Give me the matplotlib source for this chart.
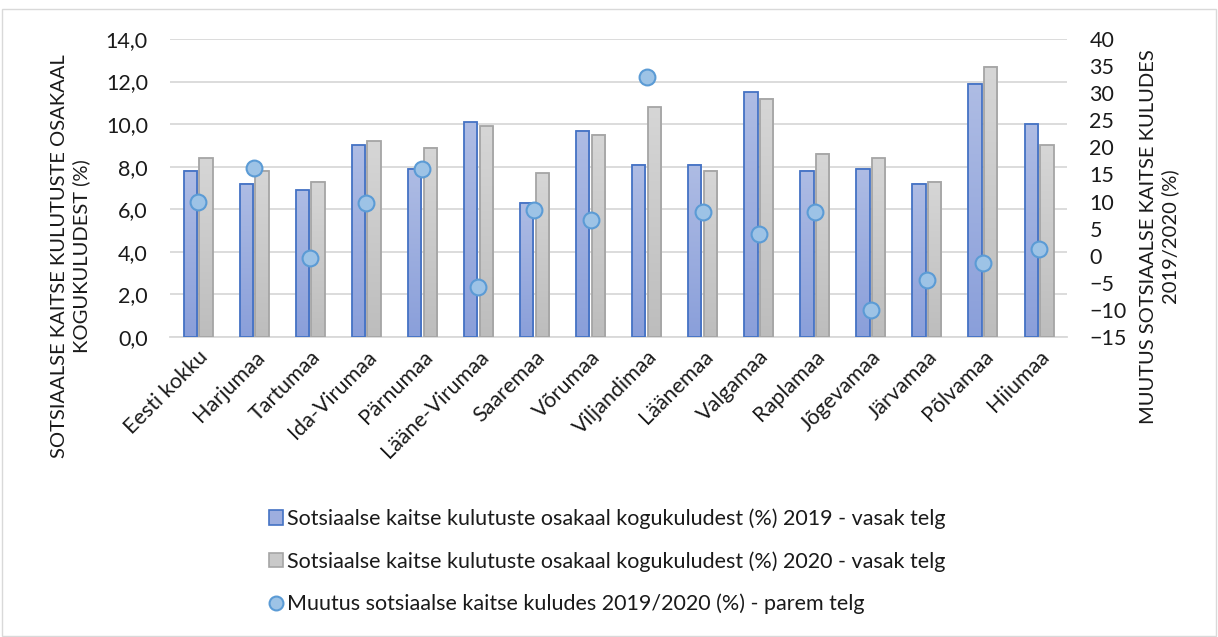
import matplotlib
matplotlib.use("Agg")
import matplotlib.pyplot as plt
from matplotlib.patches import Rectangle
from matplotlib.lines import Line2D
from matplotlib.ticker import FuncFormatter
from matplotlib.colors import LinearSegmentedColormap
import numpy as np

plt.rcParams['font.family'] = ['Lato', 'DejaVu Sans']

regions = ["Eesti kokku", "Harjumaa", "Tartumaa", "Ida-Virumaa", "Pärnumaa",
           "Lääne-Virumaa", "Saaremaa", "Võrumaa", "Viljandimaa", "Läänemaa",
           "Valgamaa", "Raplamaa", "Jõgevamaa", "Järvamaa", "Põlvamaa", "Hiiumaa"]
share_2019 = [7.8, 7.2, 6.9, 9.0, 7.9, 10.1, 6.3, 9.7, 8.1, 8.1, 11.5, 7.8, 7.9, 7.2, 11.9, 10.0]
share_2020 = [8.4, 7.8, 7.3, 9.2, 8.9, 9.9, 7.7, 9.5, 10.8, 7.8, 11.2, 8.6, 8.4, 7.3, 12.7, 9.0]
change = [9.9, 16.2, -0.5, 9.7, 16.0, -5.8, 8.5, 6.6, 32.9, 8.1, 4.0, 8.1, -10.0, -4.4, -1.4, 1.2]

lbl_2019 = "Sotsiaalse kaitse kulutuste osakaal kogukuludest (%) 2019 - vasak telg"
lbl_2020 = "Sotsiaalse kaitse kulutuste osakaal kogukuludest (%) 2020 - vasak telg"
lbl_chg = "Muutus sotsiaalse kaitse kuludes 2019/2020 (%) - parem telg"

txt = '#1a1a1a'
blue_grad = LinearSegmentedColormap.from_list('b', ['#8A9FDA', '#AEBCE4'])
gray_grad = LinearSegmentedColormap.from_list('g', ['#BDBDBD', '#D6D6D6'])
grad = np.linspace(0, 1, 100).reshape(-1, 1)

fig = plt.figure(figsize=(12.18, 6.37), dpi=100)
ax = fig.add_axes([0.1396, 0.471, 0.7365, 0.4678])
ax2 = ax.twinx()

x = np.arange(len(regions))
w = 0.237

def gradient_bars(xpos, vals, cmap, edge):
    bars = ax.bar(xpos, vals, w, facecolor='none', edgecolor=edge, linewidth=1.3, zorder=4)
    for b in bars:
        x0, h = b.get_x(), b.get_height()
        ax.imshow(grad, cmap=cmap, origin='lower', aspect='auto', zorder=3,
                  extent=(x0, x0 + b.get_width(), 0, h))

gradient_bars(x - 0.14, share_2019, blue_grad, '#4472C4')
gradient_bars(x + 0.14, share_2020, gray_grad, '#A5A5A5')
ax2.scatter(x, change, s=130, color='#9DC3E6', edgecolors='#5B9BD5', linewidths=1.5, zorder=5)

ax.set_xlim(-0.5, len(regions) - 0.5)
ax.set_ylim(0, 14)
ax.set_yticks(np.arange(0, 14.1, 2))
ax.yaxis.set_major_formatter(FuncFormatter(lambda v, p: f"{v:.1f}".replace('.', ',')))
ax2.set_ylim(-15, 40)
ax2.set_yticks(np.arange(-15, 41, 5))

ax.grid(axis='y', color='#D9D9D9', linewidth=1.3, zorder=0)
ax.set_axisbelow(True)
for a in (ax, ax2):
    for s in a.spines.values():
        s.set_visible(False)
    a.tick_params(length=0, labelsize=15.5, colors=txt)
ax.spines['bottom'].set_visible(True)
ax.spines['bottom'].set_color('#D9D9D9')
ax.spines['bottom'].set_linewidth(1.3)
ax.tick_params(axis='y', pad=16)
ax2.tick_params(axis='y', pad=16)

ax.set_xticks(x)
ax.set_xticklabels(regions, rotation=45, ha='right', rotation_mode='anchor')
ax.tick_params(axis='x', pad=7)

fig.text(0.058, 0.598, "SOTSIAALSE KAITSE KULUTUSTE OSAKAAL\nKOGUKULUDEST (%)",
         rotation=90, ha='center', va='center', fontsize=14.5, color=txt, linespacing=1.3)
fig.text(0.952, 0.628, "MUUTUS SOTSIAALSE KAITSE KULUDES\n2019/2020 (%)",
         rotation=90, ha='center', va='center', fontsize=14.5, color=txt, linespacing=1.3)

handles = [
    Rectangle((0, 0), 1, 1, facecolor='#9DAEDF', edgecolor='#4472C4', linewidth=1.2),
    Rectangle((0, 0), 1, 1, facecolor='#C9C9C9', edgecolor='#A5A5A5', linewidth=1.2),
    Line2D([], [], marker='o', linestyle='none', markersize=10,
           markerfacecolor='#9DC3E6', markeredgecolor='#5B9BD5', markeredgewidth=1.5),
]
fig.legend(handles, [lbl_2019, lbl_2020, lbl_chg], loc='upper left',
           bbox_to_anchor=(0.205, 0.232), frameon=False, fontsize=15.5,
           labelspacing=1.02, handlelength=0.65, handleheight=0.65, handletextpad=0.2,
           alignment='left', labelcolor=txt)

fig.patches.append(Rectangle((0.002, 0.002), 0.996, 0.984, transform=fig.transFigure,
                             fill=False, edgecolor='#D9D9D9', linewidth=1))

fig.savefig("out.png", dpi=100)
